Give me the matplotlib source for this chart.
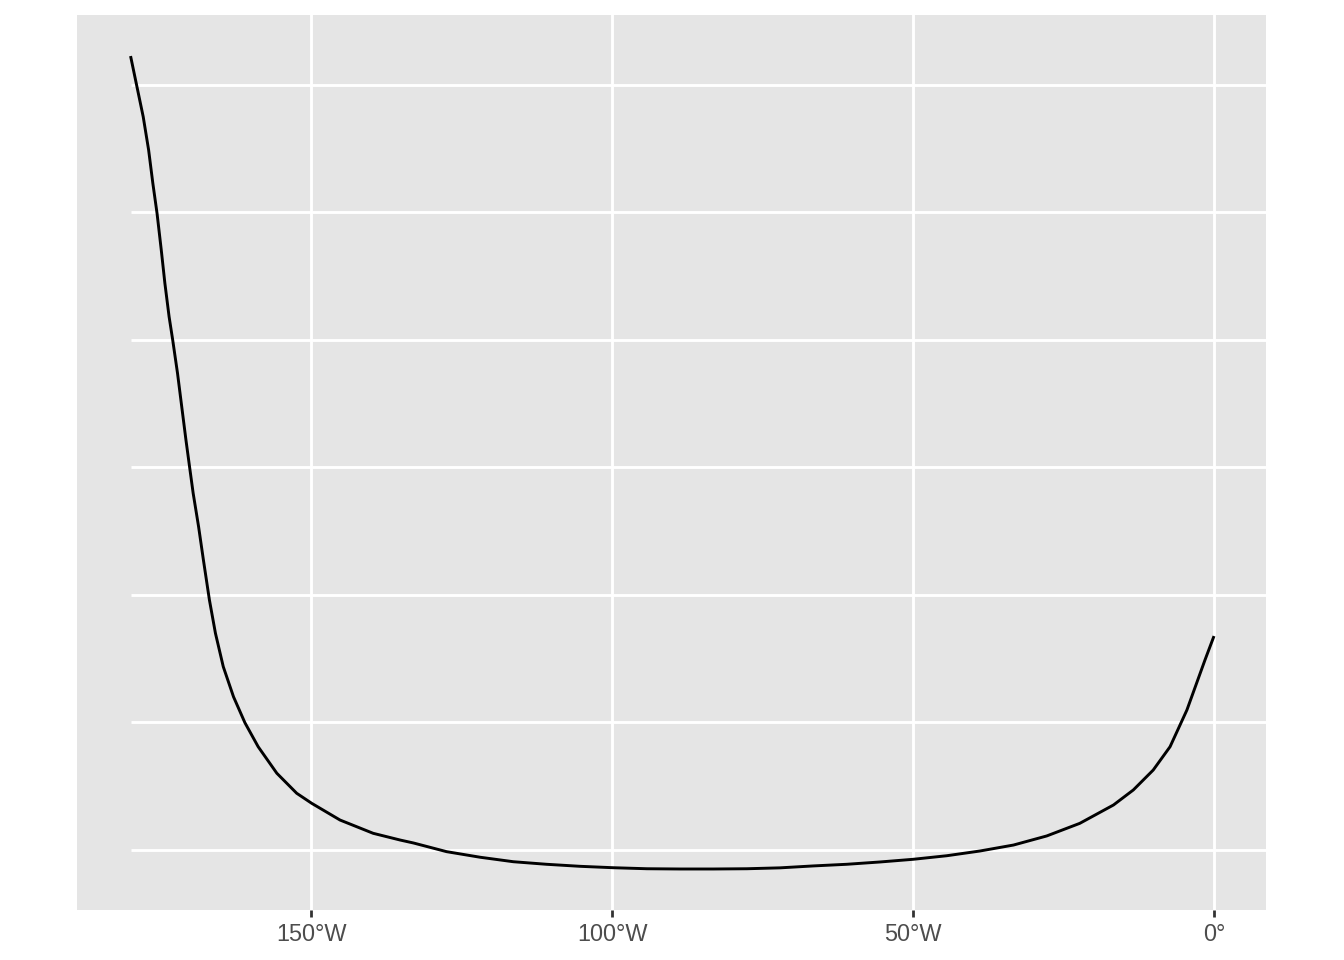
import matplotlib
matplotlib.use("Agg")
import matplotlib.pyplot as plt

plt.rcParams["font.family"] = ["Liberation Sans", "DejaVu Sans"]

# curve (longitude, projected y; parallels sit at whole numbers)
lon = [-180.0, -179.0, -177.9, -177.0, -176.3, -175.6, -174.9, -174.3, -173.6,
       -173.0, -172.2, -171.5, -170.8, -170.2, -169.6, -168.7, -167.9, -166.9,
       -165.9, -164.6, -162.9, -161.0, -158.8, -155.7, -152.4, -149.9, -145.2,
       -139.7, -135.2, -133.0, -127.5, -121.9, -116.4, -110.9, -105.3, -99.8,
       -94.2, -88.7, -83.2, -77.6, -72.1, -66.6, -61.0, -55.5, -50.0, -44.4,
       -38.9, -33.3, -27.8, -22.3, -16.7, -13.4, -10.1, -7.3, -4.5, -1.5, 0.0]
yval = [6.227, 6.000, 5.751, 5.490, 5.229, 4.993, 4.706, 4.445, 4.183,
        4.000, 3.739, 3.477, 3.216, 3.006, 2.798, 2.536, 2.275, 1.961,
        1.700, 1.438, 1.202, 0.998, 0.810, 0.602, 0.445, 0.366, 0.235,
        0.131, 0.078, 0.055, -0.013, -0.057, -0.092, -0.112, -0.128, -0.139,
        -0.147, -0.149, -0.149, -0.147, -0.140, -0.125, -0.112, -0.094, -0.073, -0.045,
        -0.008, 0.039, 0.110, 0.209, 0.353, 0.471, 0.627, 0.810, 1.098, 1.490, 1.678]

lon_ticks = [-150, -100, -50, 0]
lon_labels = ["150°W", "100°W", "50°W", "0°"]
parallels = [0, 1, 2, 3, 4, 5, 6]

fig = plt.figure(figsize=(13.44, 9.6), dpi=100)
ax = fig.add_axes([77 / 1344, 50 / 960, 1189 / 1344, 895 / 960])
ax.set_facecolor("#E5E5E5")
for s in ax.spines.values():
    s.set_visible(False)

for x in lon_ticks:
    ax.axvline(x, color="white", lw=2.1, zorder=1)
ax.hlines(parallels, -180, 20, color="white", lw=2.1, zorder=1)

ax.plot(lon, yval, color="black", lw=2.1, zorder=3,
        solid_capstyle="butt", solid_joinstyle="round")

ax.set_xlim(-188.9, 8.64)
ax.set_ylim(-0.4706, 6.549)
ax.set_xticks(lon_ticks)
ax.set_xticklabels(lon_labels)
ax.set_yticks([])
ax.tick_params(axis="x", length=5.3, width=2.0, color="#333333",
               labelcolor="#4D4D4D", labelsize=16.9, pad=4.2)

fig.savefig("out.png", dpi=100)
